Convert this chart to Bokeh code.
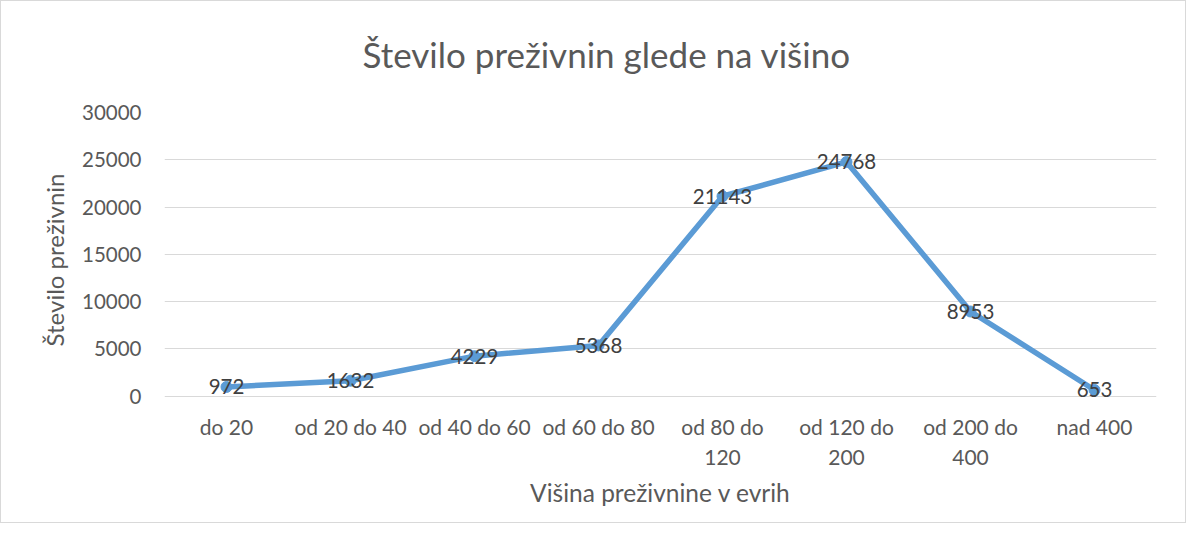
from bokeh.plotting import figure
from bokeh.models import ColumnDataSource, FactorRange, Range1d, SingleIntervalTicker, LabelSet, Title
from bokeh.core.properties import value
from bokeh.embed import file_html
from bokeh.resources import INLINE

categories = ["do 20", "od 20 do 40", "od 40 do 60", "od 60 do 80",
              "od 80 do\n120", "od 120 do\n200", "od 200 do\n400", "nad 400"]
counts = [972, 1632, 4229, 5368, 21143, 24768, 8953, 653]
labels = [str(v) for v in counts]

FONT = "Lato"
src = ColumnDataSource(dict(cat=categories, val=counts, lab=labels))

p = figure(width=1186, height=523, output_backend="svg", toolbar_location=None,
           x_range=FactorRange(*categories, range_padding=0),
           y_range=Range1d(-1200, 30000),
           min_border_left=163, min_border_right=31,
           min_border_top=111, min_border_bottom=117)
p.styles = {"border": "1px solid #d9d9d9"}

# spacer between frame and title
p.add_layout(Title(text=" ", text_font_size="32px", standoff=0), "above")

p.title.text = "Število preživnin glede na višino"
p.title.align = "left"
p.title.offset = 198
p.title.text_font = FONT
p.title.text_font_size = "35px"
p.title.text_font_style = "normal"
p.title.text_color = "#595959"
p.title.standoff = 0

p.outline_line_color = None
p.background_fill_color = "white"
p.border_fill_color = "white"

p.xgrid.grid_line_color = None
p.ygrid.grid_line_color = "#d9d9d9"
p.ygrid.grid_line_width = 1

p.yaxis.ticker = SingleIntervalTicker(interval=5000)
for ax in (p.xaxis[0], p.yaxis[0]):
    ax.axis_line_color = None
    ax.major_tick_line_color = None
    ax.minor_tick_line_color = None
    ax.major_tick_out = 0
    ax.major_tick_in = 0
    ax.major_label_text_font = FONT
    ax.major_label_text_font_size = "20.5px"
    ax.major_label_text_color = "#595959"
    ax.axis_label_text_font = FONT
    ax.axis_label_text_font_size = "24.5px"
    ax.axis_label_text_font_style = "normal"
    ax.axis_label_text_color = "#595959"

p.yaxis.axis_label = "Število preživnin"
p.yaxis.axis_label_text_font_size = "24px"
p.yaxis.major_label_standoff = 19
p.yaxis.axis_label_standoff = 10
p.xaxis.axis_label = "Višina preživnine v evrih"
p.xaxis.major_label_text_font_size = "21px"
p.xaxis.major_label_standoff = 6
p.xaxis.major_label_text_line_height = 1.2
p.xaxis.axis_label_standoff = 6

p.line("cat", "val", source=src, line_color="#5B9BD5", line_width=5.5, line_join="round")
p.scatter("cat", "val", source=src, size=11, fill_color="#5B9BD5", line_color="#5B9BD5")
p.add_layout(LabelSet(x="cat", y="val", text="lab", source=src,
                      text_align="center", text_baseline="middle",
                      text_font=value(FONT), text_font_size="20.5px", text_color="#404040"))

open("out.html", "w").write(file_html(p, INLINE))
